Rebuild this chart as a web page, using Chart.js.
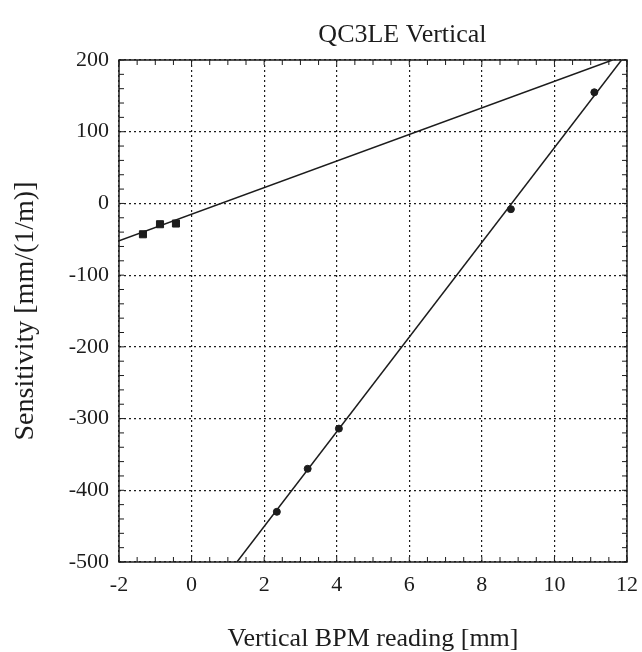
<!DOCTYPE html>
<html>
<head>
<meta charset="utf-8">
<script src="https://cdn.jsdelivr.net/npm/chart.js@4/dist/chart.umd.min.js"></script>
<style>
  html, body { margin: 0; padding: 0; background: #fff; }
  #wrap { width: 642px; height: 652px; }
</style>
</head>
<body>
<div id="wrap"><canvas id="sensChart" width="642" height="652"></canvas></div>
<script>
// fit lines (end points on the plot frame)
var fitA_x = [-2, 11.6];
var fitA_y = [-52, 200];
var fitB_x = [1.25, 11.85];
var fitB_y = [-500, 200];

// measured points
var ptsA_x = [-1.34, -0.87, -0.43];
var ptsA_y = [-43, -29, -28];
var ptsB_x = [2.35, 3.2, 4.06, 8.8, 11.1];
var ptsB_y = [-430, -370, -314, -8, 155];

var xTicks = [-2, 0, 2, 4, 6, 8, 10, 12];
var yTicks = [-500, -400, -300, -200, -100, 0, 100, 200];

var chartTitle = "QC3LE Vertical";

var ink = "#1c1c1c";
var serif = "'Liberation Serif', 'DejaVu Serif', serif";

function toPoints(xs, ys) {
    var out = [];
    for (var i = 0; i < xs.length; i++) {
        out.push({ x: xs[i], y: ys[i] });
    }
    return out;
}

// solid frame, small inward ticks on all four sides, and the title
var framePlugin = {
    id: "frameTicks",
    afterDraw: function (chart) {
        var ctx = chart.ctx;
        var a = chart.chartArea;
        var xs = chart.scales.x;
        var ys = chart.scales.y;
        ctx.save();
        ctx.strokeStyle = ink;
        ctx.lineWidth = 1.5;
        ctx.strokeRect(a.left, a.top, a.right - a.left, a.bottom - a.top);
        ctx.lineWidth = 1;
        ctx.beginPath();
        for (var v = -2; v <= 12.001; v += 0.5) {
            var px = xs.getPixelForValue(v);
            ctx.moveTo(px, a.bottom); ctx.lineTo(px, a.bottom - 5);
            ctx.moveTo(px, a.top); ctx.lineTo(px, a.top + 5);
        }
        for (var w = -500; w <= 200; w += 20) {
            var py = ys.getPixelForValue(w);
            ctx.moveTo(a.left, py); ctx.lineTo(a.left + 5, py);
            ctx.moveTo(a.right, py); ctx.lineTo(a.right - 5, py);
        }
        ctx.stroke();

        // title sits a little right of the plot centre
        ctx.fillStyle = ink;
        ctx.font = "26px " + serif;
        ctx.textAlign = "center";
        ctx.textBaseline = "alphabetic";
        ctx.fillText(chartTitle, a.left + (a.right - a.left) * 0.558, 42);
        ctx.restore();
    }
};

var ctx = document.getElementById("sensChart").getContext("2d");
var sensChart = new Chart(ctx, {
    type: "scatter",
    data: {
        datasets: [
            {
                data: toPoints(fitA_x, fitA_y),
                showLine: true,
                borderColor: ink,
                borderWidth: 1.5,
                pointRadius: 0
            },
            {
                data: toPoints(fitB_x, fitB_y),
                showLine: true,
                borderColor: ink,
                borderWidth: 1.5,
                pointRadius: 0
            },
            {
                data: toPoints(ptsA_x, ptsA_y),
                pointStyle: "rect",
                pointRadius: 5,
                backgroundColor: ink,
                borderColor: ink
            },
            {
                data: toPoints(ptsB_x, ptsB_y),
                pointStyle: "circle",
                pointRadius: 3.5,
                backgroundColor: ink,
                borderColor: ink
            }
        ]
    },
    options: {
        responsive: false,
        animation: false,
        layout: { padding: { left: 0, right: 15, top: 60, bottom: 0 } },
        plugins: {
            legend: { display: false },
            tooltip: { enabled: false },
            title: { display: false }
        },
        scales: {
            x: {
                type: "linear",
                min: -2,
                max: 12,
                afterBuildTicks: function (scale) {
                    scale.ticks = xTicks.map(function (v) { return { value: v }; });
                },
                afterFit: function (scale) {
                    scale.height = 90;
                    scale.paddingLeft = 0;
                    scale.paddingRight = 0;
                },
                grid: { color: ink, lineWidth: 1.2, drawTicks: false },
                border: { display: false, dash: [2, 3] },
                ticks: {
                    color: ink,
                    padding: 10,
                    maxRotation: 0,
                    font: { family: serif, size: 22 }
                },
                title: {
                    display: true,
                    text: "Vertical BPM reading [mm]",
                    color: ink,
                    font: { family: serif, size: 26 },
                    padding: { top: 0, bottom: -3 }
                }
            },
            y: {
                type: "linear",
                min: -500,
                max: 200,
                afterBuildTicks: function (scale) {
                    scale.ticks = yTicks.map(function (v) { return { value: v }; });
                },
                afterFit: function (scale) {
                    scale.width = 119;
                    scale.paddingTop = 0;
                    scale.paddingBottom = 0;
                },
                grid: { color: ink, lineWidth: 1.2, drawTicks: false },
                border: { display: false, dash: [2, 3] },
                ticks: {
                    color: ink,
                    padding: 10,
                    font: { family: serif, size: 22 }
                },
                title: {
                    display: true,
                    text: "Sensitivity [mm/(1/m)]",
                    color: ink,
                    font: { family: serif, size: 28 },
                    padding: { top: 9, bottom: 0 }
                }
            }
        }
    },
    plugins: [framePlugin]
});
</script>
</body>
</html>
